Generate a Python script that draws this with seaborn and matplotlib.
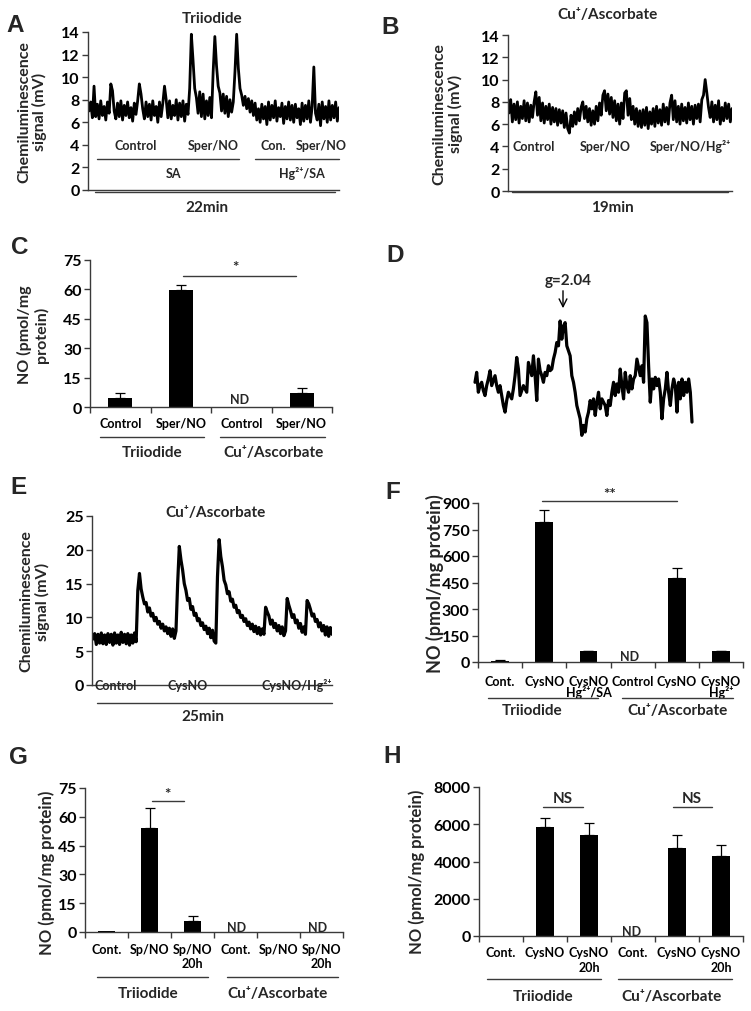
import numpy as np
import pandas as pd
import matplotlib
matplotlib.use("Agg")
import matplotlib.pyplot as plt
import seaborn as sns
from matplotlib.lines import Line2D

# --- DATI ---
# A: traccia chemiluminescenza, triioduro (mV)
trace_a = [7.0, 7.8, 6.4, 9.2,
           6.5, 7.6, 6.3, 7.9, 6.6, 7.4, 6.2, 7.8, 6.8,
           9.4, 8.8, 7.0,
           6.3, 7.7, 6.5, 7.9, 6.2, 7.5, 6.6, 7.8, 6.4, 7.3, 6.1, 7.7, 6.7, 7.9,
           9.4, 8.5, 7.2,
           6.3, 7.8, 6.5, 7.6, 6.2, 7.9, 6.6, 7.4, 6.0, 7.8, 6.5, 7.7,
           9.2, 8.0,
           6.4, 7.9, 6.3, 7.5, 6.6, 8.0, 6.2, 7.7, 6.5, 7.9, 6.1, 7.6, 6.7,
           9.0, 13.8, 11.5, 9.0, 8.2,
           6.8, 8.7, 6.5, 8.5, 6.3, 7.9, 6.6, 8.2, 6.4,
           10.5, 13.6, 11.0, 9.2, 8.6,
           7.0, 8.5, 6.8, 8.3, 6.5, 8.0, 6.9, 7.8,
           10.5, 13.8, 10.8, 9.0, 8.4,
           7.5, 8.3, 7.2, 8.1, 6.9, 7.9, 6.6, 7.7, 6.2,
           7.2, 6.0, 7.6, 6.3, 7.4, 5.8, 7.8, 6.2, 7.5, 6.4, 7.9, 6.1, 7.3, 6.5, 7.7, 5.9,
           7.4, 6.3, 7.8, 6.2, 7.5, 6.0, 7.6, 6.4, 7.2, 5.8, 7.7, 6.1, 7.5, 6.3, 7.9, 6.0, 7.4,
           10.9, 6.8,
           6.2, 7.6, 5.7, 7.8, 6.3, 7.4, 6.0, 7.9, 6.2, 7.5, 6.4, 7.8, 6.1, 7.3]

# B: traccia Cu+/ascorbato (mV)
trace_b = [7.0, 8.2, 6.2, 7.8, 6.4, 8.0, 6.1, 7.6, 6.5, 8.1, 6.3, 7.9, 6.2, 7.7, 6.6, 8.0,
           8.9, 6.8, 8.4,
           6.3, 7.9, 6.1, 7.6, 6.4, 7.8, 6.0, 7.5, 6.2, 7.4, 5.9, 7.3, 6.1, 7.2, 5.7, 7.0, 5.6,
           5.2,
           6.8, 5.8, 7.1, 6.0, 7.4, 6.3, 7.5,
           8.0, 6.5, 7.6,
           6.2, 7.4, 5.9, 7.2, 6.0, 7.6, 6.3, 7.9, 6.8,
           8.6, 9.0, 7.2, 8.7, 6.9,
           8.4, 6.6, 8.1, 6.3, 7.8, 6.0, 7.9, 6.5,
           8.8, 9.0, 6.8, 8.3,
           6.4, 7.6, 6.0, 7.4, 5.8, 7.2, 5.7, 7.3, 5.9, 7.5, 5.6, 7.1, 6.0, 7.4, 5.8, 7.6,
           6.1, 7.3, 5.9, 7.8, 6.2, 7.5, 6.0, 7.9,
           8.6, 6.4, 8.1,
           6.2, 7.6, 6.0, 7.8, 6.3, 7.5, 6.1, 7.9, 6.4, 7.6, 6.0, 7.7, 6.5, 7.8, 6.2, 8.2,
           8.6, 10.0, 8.8, 7.5,
           6.6, 8.0, 6.2, 7.7, 6.4, 8.1, 6.0, 7.5, 6.3, 7.9, 6.5, 7.8, 6.2, 7.4]

# E: traccia CysNO in Cu+/ascorbato (mV)
trace_e = [6.8, 7.6, 6.0, 7.5, 6.2, 7.7, 6.1, 7.4, 6.0, 7.6, 6.3, 7.5, 5.9, 7.7, 6.2, 7.4,
           6.0, 7.8, 6.3, 7.5, 6.1, 7.6, 5.9, 7.4, 6.2, 7.7, 6.4,
           14.0, 16.5, 14.2, 13.0, 12.0,
           12.2, 10.8, 11.4, 10.2, 10.6, 9.5, 10.0, 9.0, 9.4, 8.4, 9.0, 8.0, 8.6, 7.6, 8.4,
           7.2, 8.3, 6.9, 8.0,
           15.0, 20.5, 18.5, 17.0, 15.0,
           14.0, 12.5, 12.8, 11.2, 11.6, 10.3, 10.6, 9.5, 9.8, 8.8, 9.2, 8.2, 8.7, 7.6, 8.4,
           7.0, 8.1, 6.5, 6.2,
           16.0, 21.5, 19.0, 17.5, 15.5,
           14.8, 13.5, 13.8, 12.4, 12.7, 11.5, 11.8, 10.7, 11.0, 10.0, 10.3, 9.4, 9.8, 8.8,
           9.3, 8.3, 9.0, 7.9, 8.7, 7.6, 8.5, 7.4, 8.3, 7.5,
           11.5, 10.8,
           10.2, 9.0, 9.6, 8.5, 9.1, 8.0, 8.8, 7.6, 8.6, 7.3, 8.0,
           12.8, 11.8,
           11.0, 10.0, 10.4, 9.2, 9.6, 8.4, 9.1, 7.8, 8.6, 7.5,
           12.5, 12.0,
           11.2, 10.2, 10.5, 9.4, 9.7, 8.6, 9.2, 8.0, 8.8, 7.4, 8.6, 7.2, 8.5, 7.5]

# D: spettro EPR (unita' arbitrarie)
epr_signal = [16.5, 19.5, 13.5, 15.5, 16.5, 14.0, 12.5, 15.5, 17.5, 20.0, 15.5, 17.0, 18.5,
              15.5, 13.5, 15.5, 12.5, 9.5, 7.5, 11.0, 13.5, 12.5, 11.5, 14.5, 18.5, 24.0,
              20.5, 12.5, 14.0, 15.5, 14.5, 13.5, 22.5, 20.5, 18.5, 24.5, 18.5, 11.0, 23.5,
              20.0, 18.5, 16.5, 19.5, 18.5, 21.5, 20.0, 20.5, 23.5, 25.5, 28.5, 27.5, 35.0,
              29.5, 33.5, 34.5, 27.5, 26.0, 24.5, 18.5, 16.5, 13.5, 9.5, 7.5, 5.5, 0.5, 3.5,
              1.5, 5.5, 7.5, 11.0, 8.5, 11.5, 6.5, 10.5, 13.5, 8.5, 11.5, 10.5, 9.5, 6.5,
              11.0, 9.5, 13.5, 16.5, 12.5, 16.0, 13.5, 20.5, 15.5, 11.5, 19.5, 15.5, 13.5,
              18.5, 14.5, 17.5, 18.5, 23.5, 21.0, 18.5, 21.5, 16.5, 36.5, 34.5, 21.5, 10.5,
              17.5, 14.5, 18.0, 15.5, 17.5, 13.5, 5.5, 11.5, 14.5, 19.5, 13.5, 9.5, 14.5,
              17.5, 15.5, 7.5, 16.5, 11.5, 17.5, 12.5, 16.5, 13.5, 17.5, 13.5, 4.5]

# C: NO (pmol/mg proteina)
c_labels = ["Control", "Sper/NO", "Control", "Sper/NO"]
c_vals = [4.4, 59.8, 0, 7.0]
c_errs = [2.7, 2.6, 0, 2.5]

# F
f_labels = ["Cont.", "CysNO", "CysNO\nHg²⁺/SA", "Control", "CysNO", "CysNO\nHg²⁺"]
f_vals = [4, 790, 62, 0, 473, 61]
f_errs = [5, 70, 3, 0, 57, 2]

# G
g_labels = ["Cont.", "Sp/NO", "Sp/NO\n20h", "Cont.", "Sp/NO", "Sp/NO\n20h"]
g_vals = [0.5, 54.0, 5.5, 0, 0, 0]
g_errs = [0, 10.4, 3.0, 0, 0, 0]

# H
h_labels = ["Cont.", "CysNO", "CysNO\n20h", "Cont.", "CysNO", "CysNO\n20h"]
h_vals = [0, 5850, 5420, 0, 4720, 4320]
h_errs = [0, 500, 660, 0, 680, 580]

# --- STILE ---
sns.set_style("ticks")
plt.rcParams["font.family"] = ["Lato", "DejaVu Sans"]
plt.rcParams["font.weight"] = "bold"
plt.rcParams["axes.labelweight"] = "bold"
plt.rcParams["axes.edgecolor"] = "#3a3a3a"
plt.rcParams["xtick.color"] = "#3a3a3a"
plt.rcParams["ytick.color"] = "#3a3a3a"
plt.rcParams["xtick.labelcolor"] = "black"
plt.rcParams["ytick.labelcolor"] = "black"
plt.rcParams["axes.linewidth"] = 1.0

W, H = 751, 1012
fig = plt.figure(figsize=(W / 100, H / 100), dpi=100)
fig.patch.set_facecolor("white")

CAT = 9      # etichette categorie
GRP = 11     # etichette gruppi / titoli
TICK = 11.5  # etichette asse y


def px_axes(l, t, r, b):
    return fig.add_axes([l / W, 1 - b / H, (r - l) / W, (b - t) / H])


def ftext(x, y, s, size=CAT, **kw):
    fig.text(x / W, 1 - y / H, s, ha="center", va="center", fontsize=size,
             fontweight="bold", **kw)


def fline(x0, x1, y, lw=1.0, color="#3a3a3a"):
    fig.add_artist(Line2D([x0 / W, x1 / W], [1 - y / H, 1 - y / H], color=color,
                          lw=lw, transform=fig.transFigure))


def letter(x, y, s):
    fig.text(x / W, 1 - y / H, s, ha="center", va="center", fontsize=17.5,
             fontweight="bold", family=["Liberation Sans", "DejaVu Sans"])


def y_style(ax, ymax, step, label, lx, ly, size=11.5, ls=1.1):
    ax.set_ylim(0, ymax)
    ax.set_yticks(np.arange(0, ymax + 1, step))
    ax.tick_params(axis="y", direction="out", length=4, width=1, labelsize=TICK, pad=2)
    for t in ax.get_yticklabels():
        t.set_fontweight("bold")
    ax.set_ylabel(label, fontsize=size, fontweight="bold", va="center", linespacing=ls)
    ax.yaxis.set_label_coords(lx, ly)
    sns.despine(ax=ax)


def trace_panel(ax, y, lw=2.0):
    x = np.arange(len(y))
    sns.lineplot(x=x, y=y, ax=ax, color="black", lw=lw, estimator=None)
    ax.set_xlim(-0.6, len(y) - 1)
    ax.spines["bottom"].set_visible(False)
    ax.set_xticks([])
    ax.set_xlabel("")


def bar_panel(ax, labels, vals, errs, pad, ls):
    n = len(vals)
    pos = np.arange(n)
    df = pd.DataFrame({"pos": pos, "val": vals})
    sns.barplot(data=df, x="pos", y="val", order=list(pos), color="black",
                saturation=1, width=0.4, linewidth=0, errorbar=None, ax=ax)
    e = np.array(errs, dtype=float)
    v = np.array(vals, dtype=float)
    m = e > 0
    ax.errorbar(pos[m], v[m], yerr=[np.zeros(m.sum()), e[m]], fmt="none",
                ecolor="black", elinewidth=0.9, capsize=3.5, capthick=0.9)
    ax.set_xlim(-0.5, n - 0.5)
    ax.set_xticks(np.arange(-0.5, n, 1))
    ax.set_xticklabels([])
    ax.set_xticks(pos, labels, minor=True)
    ax.tick_params(axis="x", which="major", length=4, width=1, direction="out")
    ax.tick_params(axis="x", which="minor", length=0, pad=pad, labelsize=CAT)
    for t in ax.get_xticklabels(minor=True):
        t.set_linespacing(ls)
        t.set_fontweight("bold")
    ax.set_xlabel("")


# --- A ---
ax_a = px_axes(88, 33, 339, 191)
trace_panel(ax_a, trace_a)
y_style(ax_a, 14, 2, "Chemiluminescence\nsignal (mV)", -0.223, 0.5)
letter(15, 25, "A")
ftext(212, 19, "Triiodide", GRP)
for x, s in [(136, "Control"), (213, "Sper/NO"), (273, "Con."), (321, "Sper/NO")]:
    ftext(x, 146, s)
fline(97, 239, 160)
fline(255, 339, 160)
ftext(173, 174, "SA")
ftext(302, 174, "Hg²⁺/SA")
fline(95, 335, 193)
ftext(207, 208, "22min", GRP)

# --- B ---
ax_b = px_axes(508, 36, 732, 192)
trace_panel(ax_b, trace_b)
y_style(ax_b, 14, 2, "Chemiluminescence\nsignal (mV)", -0.268, 0.5)
letter(390, 27, "B")
ftext(608, 15, "Cu⁺/Ascorbate", GRP)
for x, s in [(534, "Control"), (605, "Sper/NO"), (690, "Sper/NO/Hg²⁺")]:
    ftext(x, 147, s)
fline(512, 728, 193)
ftext(612, 208, "19min", GRP)

# --- C ---
ax_c = px_axes(90, 261, 332, 408)
bar_panel(ax_c, c_labels, c_vals, c_errs, pad=7.5, ls=1.2)
y_style(ax_c, 75, 15, "NO (pmol/mg\nprotein)", -0.236, 0.5)
letter(20, 247, "C")
fline(183, 296, 277)
ftext(235, 268, "*", 11)
ftext(240, 400, "ND")
fline(100, 204, 438)
fline(220, 325, 438)
ftext(152, 453, "Triiodide", GRP)
ftext(273, 453, "Cu⁺/Ascorbate", GRP)

# --- D ---
ax_d = px_axes(475, 317, 692, 438)
sns.lineplot(x=np.arange(len(epr_signal)), y=epr_signal, ax=ax_d, color="black",
             lw=2.3, estimator=None)
ax_d.set_xlim(0, len(epr_signal) - 1)
ax_d.set_ylim(0, 36.5)
ax_d.axis("off")
for ln in ax_d.lines:
    ln.set_clip_on(False)
letter(395, 255, "D")
ftext(568, 281, "g=2.04", GRP)
ax_d.annotate("", xy=(563, H - 312), xytext=(563, H - 289), xycoords="figure pixels",
              textcoords="figure pixels",
              arrowprops=dict(arrowstyle="->", lw=1.0, color="black", mutation_scale=14))

# --- E ---
ax_e = px_axes(92, 517, 332, 686)
trace_panel(ax_e, trace_e, lw=2.3)
y_style(ax_e, 25, 5, "Chemiluminescence\nsignal (mV)", -0.2375, 0.5)
letter(18, 488, "E")
ftext(216, 513, "Cu⁺/Ascorbate", GRP)
for x, s in [(116, "Control"), (188, "CysNO"), (297, "CysNO/Hg²⁺")]:
    ftext(x, 686, s)
fline(97, 332, 704)
ftext(203, 717, "25min", GRP)

# --- F ---
ax_f = px_axes(478, 504, 743, 663)
bar_panel(ax_f, f_labels, f_vals, f_errs, pad=9, ls=0.85)
y_style(ax_f, 900, 150, "NO (pmol/mg protein)", -0.162, 0.5, size=13)
letter(393, 493, "F")
fline(542, 677, 502)
ftext(610, 495, "**", 11)
ftext(630, 657, "ND")
fline(488, 598, 699)
fline(622, 733, 699)
ftext(532, 711, "Triiodide", GRP)
ftext(677, 711, "Cu⁺/Ascorbate", GRP)

# --- G ---
ax_g = px_axes(85, 789, 343, 933)
bar_panel(ax_g, g_labels, g_vals, g_errs, pad=8, ls=1.2)
y_style(ax_g, 75, 15, "NO (pmol/mg protein)", -0.147, 0.42, size=12)
letter(18, 758, "G")
fline(152, 184, 802)
ftext(167, 795, "*", 11)
ftext(237, 928, "ND")
ftext(318, 928, "ND")
fline(97, 208, 978)
fline(227, 338, 978)
ftext(148, 994, "Triiodide", GRP)
ftext(278, 994, "Cu⁺/Ascorbate", GRP)

# --- H ---
ax_h = px_axes(479, 788, 743, 937)
bar_panel(ax_h, h_labels, h_vals, h_errs, pad=7.5, ls=1.25)
y_style(ax_h, 8000, 2000, "NO (pmol/mg protein)", -0.235, 0.436, size=12)
letter(392, 757, "H")
fline(543, 583, 808)
fline(673, 712, 808)
ftext(563, 799, "NS", 11)
ftext(692, 799, "NS", 11)
ftext(632, 932, "ND")
fline(487, 601, 980)
fline(618, 732, 980)
ftext(543, 997, "Triiodide", GRP)
ftext(672, 997, "Cu⁺/Ascorbate", GRP)

fig.savefig("out.png", dpi=100, facecolor="white")
